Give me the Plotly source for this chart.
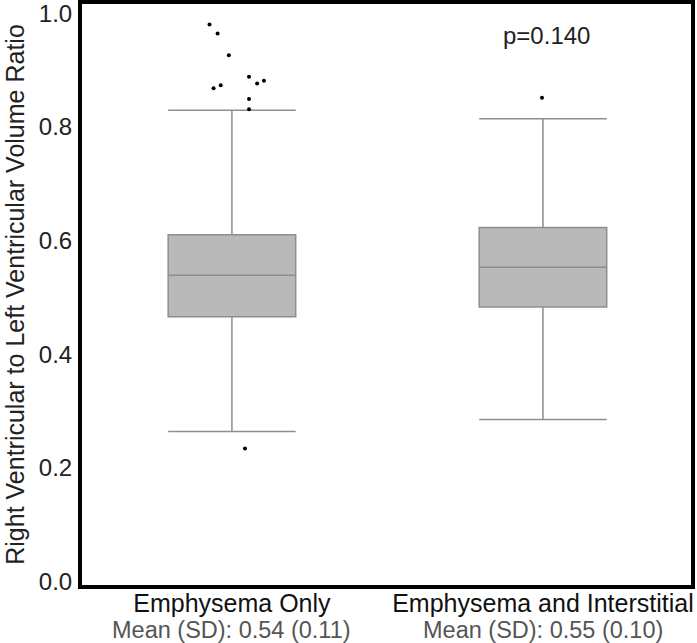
import plotly.graph_objects as go

# ---- data ----
categories = ["Emphysema Only", "Emphysema and Interstitial"]
mean_sd_labels = ["Mean (SD): 0.54 (0.11)", "Mean (SD): 0.55 (0.10)"]
q1 = [0.466, 0.483]
median = [0.539, 0.553]
q3 = [0.610, 0.623]
lower_whisker = [0.264, 0.285]
upper_whisker = [0.829, 0.814]
outliers_group1 = [0.980, 0.964, 0.926, 0.868, 0.873, 0.888, 0.876, 0.881, 0.849, 0.831, 0.234]
outliers_group2 = [0.851]
p_value_text = "p=0.140"
y_tick_vals = [0.0, 0.2, 0.4, 0.6, 0.8, 1.0]
y_tick_text = ["0.0", "0.2", "0.4", "0.6", "0.8", "1.0"]
y_title = "Right Ventricular to Left Ventricular Volume Ratio"

# ---- style (horizontal jitter of outlier dots, in category units) ----
jitter1 = [-0.072, -0.046, -0.010, -0.059, -0.036, 0.055, 0.081, 0.103, 0.055, 0.055, 0.042]
jitter2 = [-0.003]

FONT = "Liberation Sans, Arial, Helvetica, sans-serif"
BOX_FILL = "#b9b9b9"
BOX_LINE = "#8e8e8e"

fig = go.Figure()
for i, cat in enumerate(categories):
    fig.add_trace(go.Box(
        x=[i],
        q1=[q1[i]], median=[median[i]], q3=[q3[i]],
        lowerfence=[lower_whisker[i]], upperfence=[upper_whisker[i]],
        width=0.41, whiskerwidth=1,
        fillcolor=BOX_FILL,
        line=dict(color=BOX_LINE, width=1.5),
        boxpoints=False,
        name=cat, showlegend=False,
    ))

for i, (vals, jit) in enumerate([(outliers_group1, jitter1), (outliers_group2, jitter2)]):
    fig.add_trace(go.Scatter(
        x=[i + j for j in jit], y=vals, mode="markers",
        marker=dict(color="black", size=4),
        showlegend=False, hoverinfo="y",
    ))

fig.add_annotation(x=1.013, y=0.961, xref="x", yref="y", text=p_value_text,
                   showarrow=False, font=dict(family=FONT, size=24, color="#222"))

for i, lab in enumerate(mean_sd_labels):
    fig.add_annotation(x=i, y=-0.0775, xref="x", yref="paper", text=lab,
                       showarrow=False, yanchor="middle",
                       font=dict(family=FONT, size=23.5, color="#555"))

fig.update_layout(
    width=697, height=643,
    margin=dict(l=82, r=6, t=4, b=58, pad=0),
    plot_bgcolor="white", paper_bgcolor="white",
    font=dict(family=FONT, color="#222"),
)
fig.update_xaxes(
    range=[-0.482, 1.476], tickvals=[0, 1], ticktext=categories,
    tickfont=dict(family=FONT, size=25, color="#111"),
    ticklabelstandoff=-7,
    showgrid=False, zeroline=False, ticks="", automargin=False,
    showline=True, linewidth=4, linecolor="black", mirror=True,
)
fig.update_yaxes(
    range=[-0.006, 1.016], tickvals=y_tick_vals, ticktext=y_tick_text,
    tickfont=dict(family=FONT, size=24, color="#222"),
    ticklabelstandoff=1, ticklabeloverflow="allow",
    title=dict(text=y_title, font=dict(family=FONT, size=25, color="#222"), standoff=8),
    showgrid=False, zeroline=False, ticks="", automargin=False,
    showline=True, linewidth=4, linecolor="black", mirror=True,
)

fig.write_html(
    "out.html",
    config={"displayModeBar": False},
    post_script="document.body.style.margin='0';document.body.style.padding='0';",
)
